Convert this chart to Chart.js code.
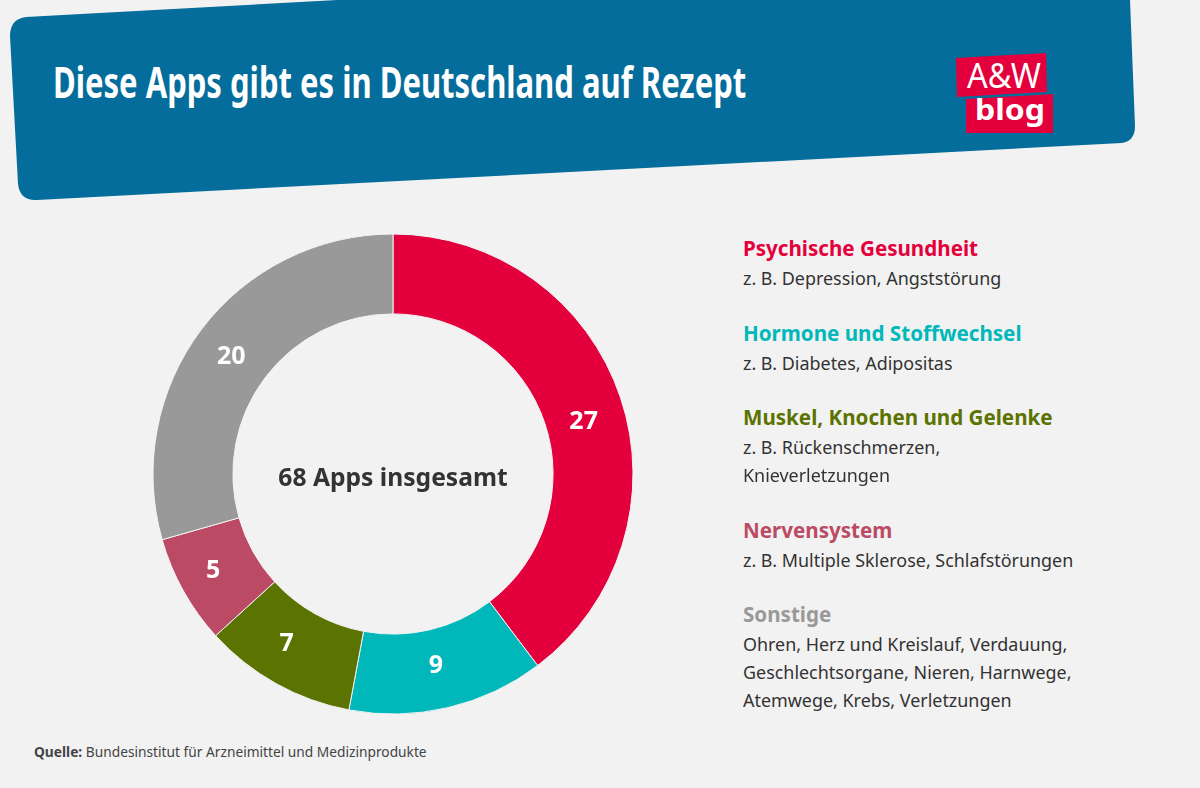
<!DOCTYPE html>
<html lang="de">
<head>
<meta charset="utf-8">
<title>Diese Apps gibt es in Deutschland auf Rezept</title>
<script src="https://cdn.jsdelivr.net/npm/chart.js@4"></script>
<style>
  html, body { margin: 0; padding: 0; }
  body { width: 1200px; height: 788px; background: #f2f2f2; position: relative; overflow: hidden; font-family: "Noto Sans", sans-serif; color: #333; }
  #banner { position: absolute; left: 0; top: 0; }
  #title { position: absolute; left: 53px; top: 54px; font-weight: 700; font-size: 43.4px; line-height: 56px; color: #fff; white-space: nowrap; transform: scaleX(.715); transform-origin: left top; }
  #chart-box { position: absolute; left: 143px; top: 224px; width: 500px; height: 500px; }
  #center-label { position: absolute; left: 233px; top: 458px; width: 320px; text-align: center; font-size: 25px; line-height: 36px; font-weight: 700; color: #333; transform: scaleX(.985); }
  #legend { position: absolute; left: 743px; top: 0; }
  .entry { position: absolute; left: 0; white-space: nowrap; }
  .entry b { display: block; font-size: 21px; line-height: 28px; transform: scaleX(.98); transform-origin: left top; margin-bottom: 2px; }
  .entry span { display: block; font-size: 18px; line-height: 28px; color: #333; transform: scaleX(.995); transform-origin: left top; }
  #source { position: absolute; left: 34px; top: 741px; font-size: 14.5px; line-height: 20px; color: #444; white-space: nowrap; transform: scaleX(.947); transform-origin: left top; }
</style>
</head>
<body>
<svg id="banner" width="1200" height="210" viewBox="0 0 1200 210">
  <path fill="#046d9b" d="M10 36 Q10 19 26 17 L337 0 L1130 0 L1135 126 Q1135 141 1122 143 L37 200 Q20 201 18 184 Z"/>
  <polygon fill="#e4003c" points="956,58 1046,53 1047,92 957,97"/>
  <polygon fill="#e4003c" points="966,99 1053,94 1053,133 966,133"/>
  <text x="967" y="88" fill="#fff" font-family="Noto Sans" font-size="35" textLength="74" lengthAdjust="spacingAndGlyphs">A&amp;W</text>
  <text x="975" y="120" fill="#fff" font-family="Noto Sans" font-weight="700" font-size="28" textLength="70" lengthAdjust="spacingAndGlyphs">blog</text>
</svg>
<div id="title">Diese Apps gibt es in Deutschland auf Rezept</div>
<div id="chart-box"><canvas id="donut" width="500" height="500"></canvas></div>
<div id="center-label">68 Apps insgesamt</div>
<div id="legend"></div>
<div id="source"><b>Quelle:</b> Bundesinstitut für Arzneimittel und Medizinprodukte</div>
<script>
const categories = ['Psychische Gesundheit', 'Hormone und Stoffwechsel', 'Muskel, Knochen und Gelenke', 'Nervensystem', 'Sonstige'];
const appCounts = [27, 9, 7, 5, 20];
const sliceColors = ['#e4003c', '#00b8b9', '#5b7300', '#bb4a64', '#999999'];
const legendDetails = [
  ['z. B. Depression, Angststörung'],
  ['z. B. Diabetes, Adipositas'],
  ['z. B. Rückenschmerzen,', 'Knieverletzungen'],
  ['z. B. Multiple Sklerose, Schlafstörungen'],
  ['Ohren, Herz und Kreislauf, Verdauung,', 'Geschlechtsorgane, Nieren, Harnwege,', 'Atemwege, Krebs, Verletzungen']
];
const legendTops = [234, 319, 403, 516, 600];
// small offsets of the value labels from the slice centres, as placed in the original
const labelNudge = [[1, 11], [-3, -3], [-9, -5], [-5, 0], [-2, 3]];

// Build legend text
const legend = document.getElementById('legend');
categories.forEach((name, i) => {
  const entry = document.createElement('div');
  entry.className = 'entry';
  entry.style.top = legendTops[i] + 'px';
  const head = document.createElement('b');
  head.textContent = name;
  head.style.color = sliceColors[i];
  entry.appendChild(head);
  legendDetails[i].forEach(line => {
    const row = document.createElement('span');
    row.textContent = line;
    entry.appendChild(row);
  });
  legend.appendChild(entry);
});

// Draw the value on each slice
const sliceValues = {
  id: 'sliceValues',
  afterDatasetsDraw(chart) {
    const ctx = chart.ctx;
    ctx.save();
    ctx.fillStyle = '#fff';
    ctx.font = '700 25px "Noto Sans"';
    ctx.textAlign = 'center';
    ctx.textBaseline = 'middle';
    chart.getDatasetMeta(0).data.forEach((arc, i) => {
      const p = arc.getCenterPoint();
      ctx.fillText(appCounts[i], p.x + labelNudge[i][0], p.y + labelNudge[i][1]);
    });
    ctx.restore();
  }
};

new Chart(document.getElementById('donut'), {
  type: 'doughnut',
  data: {
    labels: categories,
    datasets: [{
      data: appCounts,
      backgroundColor: sliceColors,
      borderColor: '#f2f2f2',
      borderWidth: 1
    }]
  },
  options: {
    responsive: false,
    animation: false,
    cutout: '66.7%',
    radius: 240,
    layout: { padding: 0 },
    plugins: { legend: { display: false }, tooltip: { enabled: false } }
  },
  plugins: [sliceValues]
});
</script>
</body>
</html>
